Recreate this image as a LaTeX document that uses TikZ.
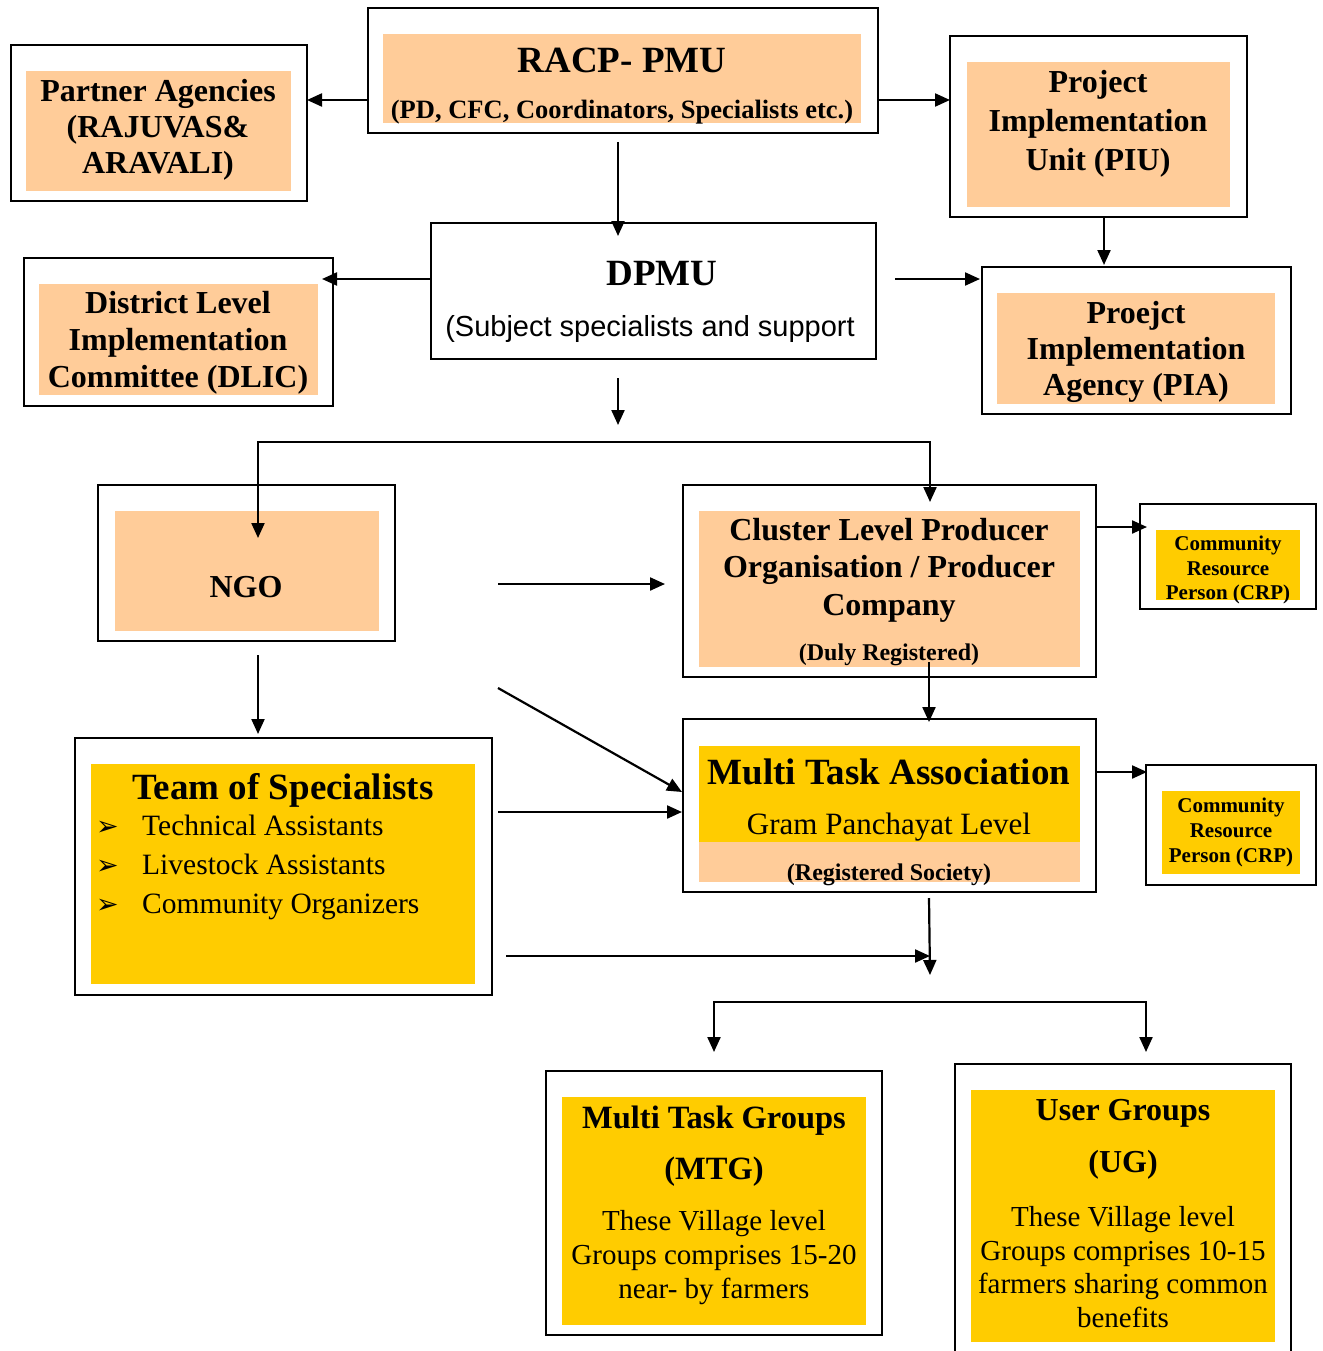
\documentclass[tikz,border=0pt]{standalone}
\usepackage{fontspec}
\setmainfont{Liberation Serif}
\newfontfamily\arialfont{Liberation Sans}
\newfontfamily\dingfont{DejaVu Sans}
\usetikzlibrary{arrows.meta,positioning}
\definecolor{peach}{HTML}{FFCC99}
\definecolor{gold}{HTML}{FFCC00}
\newcommand{\fsz}[2]{\fontsize{#1}{#2}\selectfont}
\newcommand{\bul}{\makebox[46pt][l]{\dingfont\fontsize{27}{27}\selectfont ➢}}
\tikzset{
outerbox/.style={draw,line width=2pt,fill=white,anchor=north west,inner sep=0pt,outer sep=0pt},
peachbox/.style={fill=peach,inner sep=0pt,outer sep=0pt},
goldbox/.style={fill=gold,inner sep=0pt,outer sep=0pt},
boxtext/.style={align=center,inner sep=0pt,yshift=-3pt},
flow/.style={-{Triangle[length=15pt,width=13pt]},line width=2.2pt},
flowboth/.style={{Triangle[length=15pt,width=13pt]}-{Triangle[length=15pt,width=13pt]},line width=2.2pt}
}

\begin{document}
\begin{tikzpicture}[x=1pt,y=-1pt]
\useasboundingbox (0,0) rectangle (1322,1351);
% top level
\node[outerbox,minimum width=510pt,minimum height=125pt](racp) at (368,8){};
\node[peachbox,minimum width=478pt,minimum height=89pt,below right=26pt and 15pt of racp.north west](racpfill){};
\node[boxtext,font=\bfseries\fsz{37}{44}](racptitle) at (622,57){RACP- PMU};
\node[boxtext,font=\bfseries\fsz{26.5}{30}](racpsub) at (622,109){(PD, CFC, Coordinators, Specialists etc.)};

\node[outerbox,minimum width=296pt,minimum height=156pt](partner) at (11,45){};
\node[peachbox,minimum width=265pt,minimum height=120pt,below right=26pt and 15pt of partner.north west](partnerfill){};
\node[boxtext,font=\bfseries\fsz{32}{36}](partnertext) at (158,127){Partner Agencies\\(RAJUVAS\&\\ARAVALI)};

\node[outerbox,minimum width=297pt,minimum height=181pt](piu) at (950,36){};
\node[peachbox,minimum width=263pt,minimum height=145pt,below right=26pt and 17pt of piu.north west](piufill){};
\node[boxtext,font=\bfseries\fsz{32}{39}](piutext) at (1098,121){Project\\Implementation\\Unit (PIU)};

% district level
\node[outerbox,minimum width=445pt,minimum height=136pt](dpmu) at (431,223){};
\node[boxtext,font=\bfseries\fsz{37}{44}](dpmutitle) at (662,271){DPMU};
\node[boxtext,font=\arialfont\fsz{29}{34}](dpmusub) at (650,326){(Subject specialists and support};

\node[outerbox,minimum width=309pt,minimum height=148pt](dlic) at (24,258){};
\node[peachbox,minimum width=279pt,minimum height=111pt,below right=26pt and 15pt of dlic.north west](dlicfill){};
\node[boxtext,font=\bfseries\fsz{32}{37}](dlictext) at (178,340){District Level\\Implementation\\Committee (DLIC)};

\node[outerbox,minimum width=309pt,minimum height=147pt](pia) at (982,267){};
\node[peachbox,minimum width=278pt,minimum height=111pt,below right=26pt and 15pt of pia.north west](piafill){};
\node[boxtext,font=\bfseries\fsz{32}{36}](piatext) at (1136,349){Proejct\\Implementation\\Agency (PIA)};

% cluster level
\node[outerbox,minimum width=297pt,minimum height=156pt](ngo) at (98,485){};
\node[peachbox,minimum width=264pt,minimum height=120pt,below right=26pt and 17pt of ngo.north west](ngofill){};
\node[boxtext,font=\bfseries\fsz{32}{37}](ngotext) at (246,584){NGO};

\node[outerbox,minimum width=413pt,minimum height=192pt](cluster) at (683,485){};
\node[peachbox,minimum width=381pt,minimum height=156pt,below right=26pt and 16pt of cluster.north west](clusterfill){};
\node[boxtext,font=\bfseries\fsz{32}{37.5}](clustertext) at (889,567){Cluster Level Producer\\Organisation / Producer\\Company};
\node[boxtext,font=\bfseries\fsz{24}{28}](clustersub) at (889,652){(Duly Registered)};

\node[outerbox,minimum width=176pt,minimum height=105pt](crpa) at (1140,504){};
\node[goldbox,minimum width=144pt,minimum height=70pt,below right=26pt and 16pt of crpa.north west](crpafill){};
\node[boxtext,font=\bfseries\fsz{21}{24.5}](crpatext) at (1228,567){Community\\Resource\\Person (CRP)};

% panchayat level
\node[outerbox,minimum width=413pt,minimum height=173pt](mta) at (683,719){};
\node[goldbox,minimum width=381pt,minimum height=96pt,below right=27pt and 16pt of mta.north west](mtafill){};
\node[peachbox,minimum width=381pt,minimum height=40pt,below=0pt of mtafill](mtaband){};
\node[boxtext,font=\bfseries\fsz{37}{44}](mtatitle) at (889,769){Multi Task Association};
\node[boxtext,font=\fsz{31}{36}](mtasub) at (889,824){Gram Panchayat Level};
\node[boxtext,font=\bfseries\fsz{24}{28}](mtareg) at (889,872){(Registered Society)};

\node[outerbox,minimum width=170pt,minimum height=120pt](crpb) at (1146,765){};
\node[goldbox,minimum width=138pt,minimum height=83pt,below right=26pt and 16pt of crpb.north west](crpbfill){};
\node[boxtext,font=\bfseries\fsz{21}{25}](crpbtext) at (1231,829){Community\\Resource\\Person (CRP)};

\node[outerbox,minimum width=417pt,minimum height=257pt](team) at (75,738){};
\node[goldbox,minimum width=384pt,minimum height=220pt,below right=26pt and 16pt of team.north west](teamfill){};
\node[boxtext,font=\bfseries\fsz{37}{44}](teamtitle) at (283,787){Team of Specialists};
\node[boxtext,align=left,anchor=west,font=\fsz{29.5}{39}](teamlist) at (96,864){\bul Technical Assistants\\\bul Livestock Assistants\\\bul Community Organizers};

% village level
\node[outerbox,minimum width=336pt,minimum height=264pt](mtg) at (546,1071){};
\node[goldbox,minimum width=304pt,minimum height=228pt,below right=26pt and 16pt of mtg.north west](mtgfill){};
\node[boxtext,font=\bfseries\fsz{32.5}{36}](mtgtitle) at (714,1118){Multi Task Groups};
\node[boxtext,font=\bfseries\fsz{32.5}{36}](mtgabbr) at (714,1169){(MTG)};
\node[boxtext,font=\fsz{29}{34}](mtgtext) at (714,1255){These Village level\\Groups comprises 15-20\\near- by farmers};

\node[outerbox,minimum width=336pt,minimum height=300pt](ug) at (955,1064){};
\node[goldbox,minimum width=304pt,minimum height=252pt,below right=26pt and 16pt of ug.north west](ugfill){};
\node[boxtext,font=\bfseries\fsz{32}{36}](ugtitle) at (1123,1110){User Groups};
\node[boxtext,font=\bfseries\fsz{32}{36}](ugabbr) at (1123,1162){(UG)};
\node[boxtext,font=\fsz{29}{33.7}](ugtext) at (1123,1264){These Village level\\Groups comprises 10-15\\farmers sharing common\\benefits};

% junctions
\coordinate (dsplit) at (618,425);
\coordinate (nbar) at (930,442);
\coordinate (mjoin) at (930,975);
\coordinate (tjoin) at (930,956);
\coordinate (gbar) at (1146,1002);

% connectors
\draw[flow]([yshift=-29.5pt]racp.west)--([yshift=23pt]partner.east);
\draw[flow]([yshift=-29.5pt]racp.east)--([yshift=26.5pt]piu.west);
\draw[flow]([xshift=-5pt,yshift=-9pt]racp.south)--([xshift=-35.5pt,yshift=-13pt]dpmu.north);
\draw[flow]([yshift=12pt]dpmu.west)--([xshift=-11pt,yshift=53pt]dlic.east);
\draw[flow]([xshift=19pt,yshift=12pt]dpmu.east)--([xshift=-2pt,yshift=61.5pt]pia.west);
\draw[flow]([xshift=5.5pt]piu.south)--([xshift=-32.5pt,yshift=2pt]pia.north);
\draw[flow]([xshift=-35.5pt,yshift=-19pt]dpmu.south)--(dsplit);
\draw[flowboth]([xshift=11.5pt,yshift=-53pt]ngo.north)|-(nbar)--([xshift=40.5pt,yshift=-17pt]cluster.north);
\draw[flow]([xshift=103pt,yshift=-21pt]ngo.east)--([xshift=-18pt,yshift=-3pt]cluster.west);
\draw[flow]([yshift=54pt]cluster.east)--([xshift=7pt,yshift=29.5pt]crpa.west);
\draw[flow]([xshift=39.5pt,yshift=15pt]cluster.south)--([xshift=39.5pt,yshift=-3pt]mta.north);
\draw[flow]([xshift=103pt,yshift=-47pt]ngo.south east)--([xshift=-1pt,yshift=13.5pt]mta.west);
\draw[flow]([xshift=6pt,yshift=54.5pt]team.east)--([xshift=-1pt,yshift=-6.5pt]mta.west);
\draw[flow]([yshift=33.5pt]mta.east)--([xshift=1pt,yshift=53pt]crpb.west);
\draw[flow]([xshift=11.5pt,yshift=-14pt]ngo.south)--([xshift=-25.5pt,yshift=4pt]team.north);
\draw[flow]([xshift=39.5pt,yshift=-6pt]mta.south)--(mjoin);
\draw[flow]([xshift=14pt,yshift=-89.5pt]team.east)--(tjoin);
\draw[flowboth]([yshift=19pt]mtg.north)|-(gbar)--([xshift=23pt,yshift=12pt]ug.north);
\end{tikzpicture}
\end{document}
